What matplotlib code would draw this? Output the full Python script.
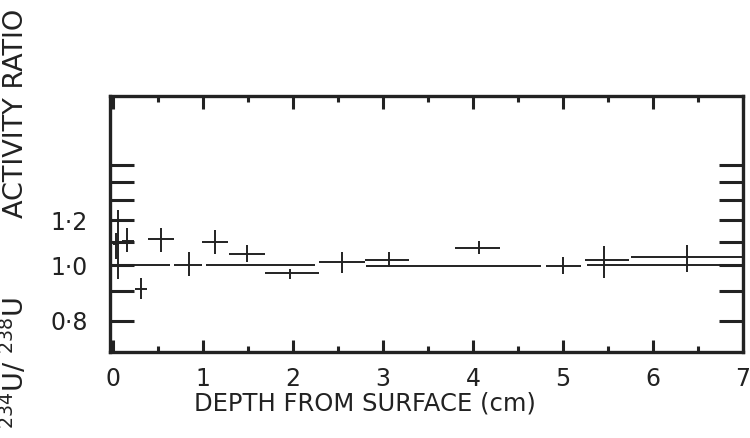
import numpy as np
import matplotlib.pyplot as plt
from matplotlib.ticker import FixedLocator, NullLocator, FixedFormatter, MultipleLocator

plt.rcParams['font.family'] = ['DejaVu Sans']

# samples with both depth interval and ratio error
depth = [0.03, 0.06, 0.16, 0.31, 0.53, 0.84, 1.13, 1.49, 1.97, 2.54, 3.07, 4.07, 5.00, 5.46, 6.38]
depth_top = [0.0, 0.05, 0.10, 0.24, 0.39, 0.68, 0.985, 1.29, 1.69, 2.29, 2.80, 3.80, 4.81, 5.24, 5.75]
depth_bot = [0.07, 0.07, 0.23, 0.38, 0.68, 0.985, 1.28, 1.69, 2.29, 2.80, 3.29, 4.30, 5.20, 5.73, 7.0]
ratio = [1.09, 1.09, 1.105, 0.91, 1.11, 1.0, 1.098, 1.048, 0.968, 1.012, 1.02, 1.074, 0.998, 1.02, 1.035]
ratio_lo = [1.025, 0.945, 1.055, 0.874, 1.055, 0.956, 1.047, 1.013, 0.946, 0.97, 0.992, 1.045, 0.965, 0.95, 0.972]
ratio_hi = [1.14, 1.25, 1.16, 0.951, 1.163, 1.056, 1.151, 1.084, 0.985, 1.057, 1.054, 1.104, 1.034, 1.08, 1.085]

# long depth intervals (no visible ratio error)
seg_top = [0.085, 1.03, 2.81, 5.27]
seg_bot = [0.63, 2.24, 4.76, 7.0]
seg_ratio = [1.0, 1.0, 0.999, 1.0]

yticks = [0.8, 0.9, 1.0, 1.1, 1.2, 1.3, 1.4, 1.5]
ytick_labels = ['0·8', '', '1·0', '', '1·2', '', '', '']

ink = '#222222'

fig = plt.figure(figsize=(7.5, 4.38), dpi=100)
ax = fig.add_axes([0.1467, 0.1963, 0.844, 0.585])

d = np.array(depth)
r = np.array(ratio)
ax.errorbar(d, r,
            xerr=[d - np.array(depth_top), np.array(depth_bot) - d],
            yerr=[r - np.array(ratio_lo), np.array(ratio_hi) - r],
            fmt='none', ecolor=ink, elinewidth=1.4, capsize=0)
ax.hlines(seg_ratio, seg_top, seg_bot, color=ink, lw=1.4)

ax.set_yscale('log')
ax.set_xlim(-0.033, 7.0)
ax.set_ylim(0.705, 1.98)

ax.yaxis.set_major_locator(FixedLocator(yticks))
ax.yaxis.set_major_formatter(FixedFormatter(ytick_labels))
ax.yaxis.set_minor_locator(NullLocator())
ax.xaxis.set_major_locator(MultipleLocator(1))
ax.xaxis.set_minor_locator(MultipleLocator(0.5))

ax.tick_params(axis='y', which='major', direction='in', left=True, right=True,
               length=17, width=2.2, color=ink, labelsize=17, pad=16, labelcolor=ink)
ax.tick_params(axis='x', which='major', direction='in', top=True, bottom=True,
               length=9, width=2.2, color=ink, labelsize=17, pad=11, labelcolor=ink)
ax.tick_params(axis='x', which='minor', direction='in', top=True, bottom=True,
               length=4, width=2.2, color=ink)

for s in ax.spines.values():
    s.set_linewidth(2.4)
    s.set_color(ink)

fig.text(365 / 750, 1 - 404 / 438, 'DEPTH FROM SURFACE (cm)', ha='center', va='center',
         fontsize=17.5, color=ink)
# y label drawn in two parts, as spaced in the original
fig.text(16 / 750, 1 - 113 / 438, 'ACTIVITY RATIO', ha='center', va='center',
         rotation=90, fontsize=19.5, color=ink)
fig.text(15 / 750, 1 - 363 / 438, r'$^{234}$U/ $^{238}$U', ha='center', va='center',
         rotation=90, fontsize=19.5, color=ink)

fig.savefig('out.png', dpi=100)
